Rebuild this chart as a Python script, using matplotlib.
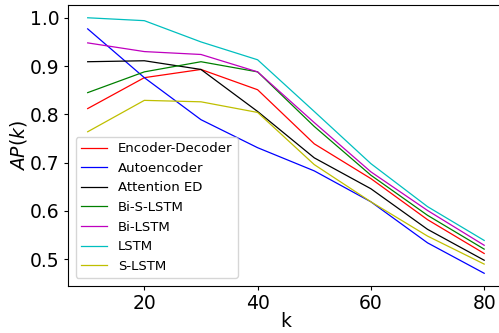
import numpy as np
import matplotlib
matplotlib.use('Agg')
import matplotlib.pyplot as plt

k = [10, 20, 30, 40, 50, 60, 70, 80]
enc_dec = [0.812, 0.876, 0.893, 0.851, 0.739, 0.667, 0.582, 0.512]
autoenc = [0.977, 0.876, 0.789, 0.731, 0.683, 0.619, 0.534, 0.471]
att_ed = [0.909, 0.911, 0.893, 0.806, 0.710, 0.646, 0.562, 0.498]
bi_s_lstm = [0.845, 0.888, 0.909, 0.888, 0.775, 0.674, 0.591, 0.521]
bi_lstm = [0.948, 0.930, 0.924, 0.888, 0.783, 0.681, 0.601, 0.529]
lstm = [1.0, 0.994, 0.950, 0.913, 0.806, 0.698, 0.609, 0.539]
s_lstm = [0.764, 0.829, 0.826, 0.804, 0.696, 0.619, 0.548, 0.490]

fig = plt.figure(figsize=(4.99, 3.33), dpi=100)
ax = fig.add_axes([0.136, 0.141, 0.874, 0.844])
ax.plot(k, enc_dec, 'r', lw=0.9, label='Encoder-Decoder')
ax.plot(k, autoenc, 'b', lw=0.9, label='Autoencoder')
ax.plot(k, att_ed, 'k', lw=0.9, label='Attention ED')
ax.plot(k, bi_s_lstm, 'g', lw=0.9, label='Bi-S-LSTM')
ax.plot(k, bi_lstm, 'm', lw=0.9, label='Bi-LSTM')
ax.plot(k, lstm, 'c', lw=0.9, label='LSTM')
ax.plot(k, s_lstm, 'y', lw=0.9, label='S-LSTM')
ax.set_xlim(6.5, 83.5)
ax.set_xlabel('k', fontsize=13.5, labelpad=-1)
ax.set_ylabel('$AP(k)$', fontsize=13.5, labelpad=1)
ax.tick_params(labelsize=13.5, length=3, pad=3)
ax.legend(loc='lower left', fontsize=9.5, borderaxespad=0.6)
plt.savefig('out.png')
